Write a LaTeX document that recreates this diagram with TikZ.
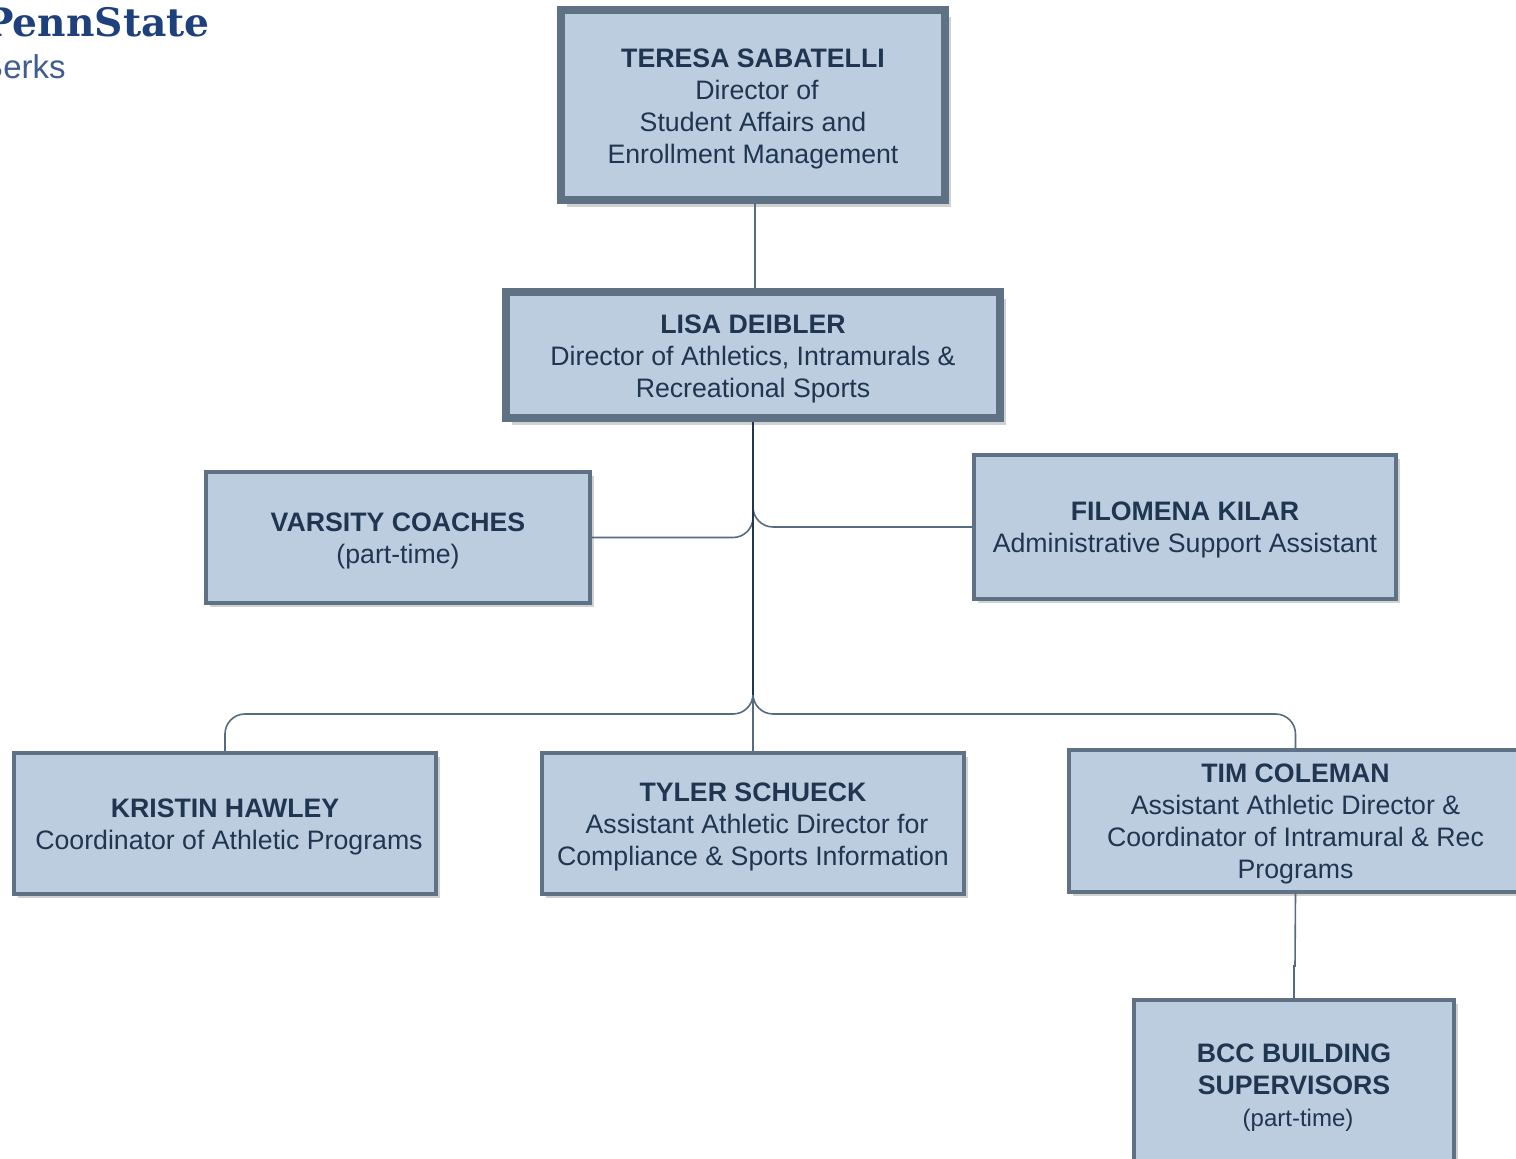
\documentclass[tikz,border=0pt]{standalone}
\usepackage{fontspec}
\setmainfont{Liberation Sans}
\newfontfamily\logoserif{DejaVu Serif}
\usetikzlibrary{shadows}
\definecolor{boxfill}{HTML}{BBCDDF}
\definecolor{boxedge}{HTML}{5F7285}
\definecolor{boxtext}{HTML}{1F3550}
\definecolor{linkcol}{HTML}{566B80}
\definecolor{logoblue}{HTML}{1E407C}
\newcommand{\nameline}[1]{\rule{0pt}{12.3pt}\textbf{#1}}
\tikzset{
  basebox/.style={draw=boxedge, fill=boxfill, text=boxtext, inner sep=0pt,
    align=center, font=\fontsize{13.35}{16}\selectfont},
  orgbox/.style={basebox, line width=2pt,
    drop shadow={shadow xshift=2.2pt, shadow yshift=-2.2pt, opacity=.18, fill=black}},
  headbox/.style={basebox, line width=4pt,
    drop shadow={shadow xshift=3.2pt, shadow yshift=-3.2pt, opacity=.18, fill=black}},
  link/.style={draw=linkcol, line width=0.8pt},
  trunk/.style={draw=boxtext, line width=1pt},
}
\begin{document}
\begin{tikzpicture}[x=0.5pt,y=-0.5pt]
    \useasboundingbox (0,0) rectangle (1516,1159);
    % logo
    \node (penn) [anchor=base east, inner sep=0pt, text=logoblue, font=\logoserif\bfseries\fontsize{19.6}{20}\selectfont] at (210,37) {PennState};
    \node (berks) [anchor=base east, inner sep=0pt, text=logoblue!85, font=\fontsize{16.5}{16.5}\selectfont] at (66,79) {Berks};
    % helper points
    \coordinate (bus) at (753,714);
    \coordinate (fork) at (753,695);
    \coordinate (jog) at (1295,966);
    % boxes
    \node (teresa) [headbox, minimum width=192pt, minimum height=95pt] at (753,105.5)
      {\nameline{TERESA SABATELLI}\\\hspace*{4pt}Director of\\Student Affairs and\\Enrollment Management};
    \node (lisa) [headbox, minimum width=247pt, minimum height=63pt] at (753,355.5)
      {\nameline{LISA DEIBLER}\\Director of Athletics, Intramurals \&\\Recreational Sports};
    \node (varsity) [orgbox, minimum width=192pt, minimum height=65.5pt] at (398,537.5)
      {\nameline{VARSITY COACHES}\\(part-time)};
    \node (filomena) [orgbox, minimum width=211pt, minimum height=72pt] at (1185,527)
      {\nameline{FILOMENA KILAR}\\Administrative Support Assistant};
    \node (kristin) [orgbox, minimum width=211pt, minimum height=70.5pt] at (225,823.5)
      {\nameline{KRISTIN HAWLEY}\\\hspace*{4pt}Coordinator of Athletic Programs};
    \node (tyler) [orgbox, minimum width=211pt, minimum height=70.5pt] at (753,823.5)
      {\nameline{TYLER SCHUECK}\\\hspace*{4pt}Assistant Athletic Director for\\Compliance \& Sports Information};
    \node (tim) [orgbox, minimum width=227pt, minimum height=71pt] at (1295.5,821)
      {\nameline{TIM COLEMAN}\\Assistant Athletic Director \&\\Coordinator of Intramural \& Rec\\Programs};
    \node (bcc) [orgbox, minimum width=160pt, minimum height=85pt] at (1294,1085)
      {\nameline{BCC BUILDING}\\\textbf{SUPERVISORS}\\{\hspace*{4pt}\fontsize{12}{16}\selectfont (part-time)}};
    % connectors
    \draw[link] ([xshift=1pt]teresa.south) -- ([xshift=1pt]teresa.south |- lisa.north);
    \draw[link, rounded corners=10pt] (lisa.south) -- (lisa.south |- varsity.east) -- (varsity.east);
    \draw[link, rounded corners=10pt] (lisa.south) -- (lisa.south |- filomena.west) -- (filomena.west);
    \draw[link, rounded corners=10pt] (lisa.south) -- (lisa.south |- bus) -- (kristin.north |- bus) -- (kristin.north);
    \draw[link, rounded corners=10pt] (lisa.south) -- (lisa.south |- bus) -- (tim.north |- bus) -- (tim.north);
    \draw[link] (lisa.south) -- (tyler.north);
    \draw[trunk] (lisa.south) -- (fork);
    \draw[link] (tim.south) -- (jog) -- (bcc.north |- jog) -- (bcc.north);
\end{tikzpicture}
\end{document}
